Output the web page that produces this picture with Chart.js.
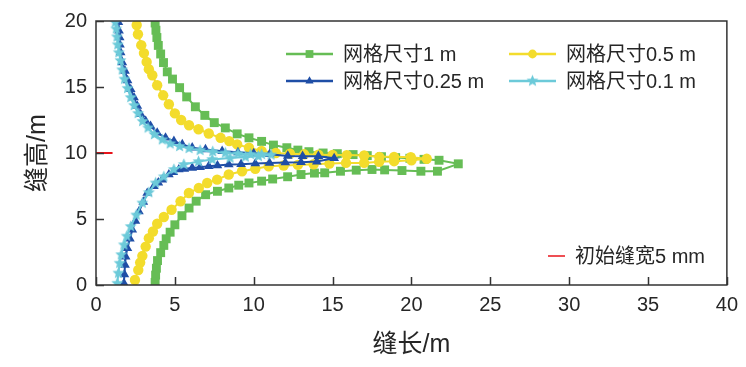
<!DOCTYPE html>
<html>
<head>
<meta charset="utf-8">
<script src="https://cdn.jsdelivr.net/npm/chart.js@4"></script>
<style>
  body { margin: 0; background: #fff; }
  #box { width: 746px; height: 367px; }
</style>
</head>
<body>
<div id="box"><canvas id="grafica" width="746" height="367"></canvas></div>
<script>
// 网格尺寸1 m
const x1m = [3.75,3.8,3.86,3.95,4.1,4.28,4.52,4.85,5.3,5.75,6.3,6.9,7.5,8.2,8.95,9.7,10.5,11.25,12.1,12.8,13.5,14.4,15.3,16.3,17.2,18.1,19.0,19.9,20.8,21.75,22.97,21.65,20.6,19.4,18.3,17.5,16.5,15.5,14.5,13.85,13.0,12.15,11.2,10.5,9.7,9.05,8.42,7.7,6.95,6.35,5.9,5.45,5.0,4.7,4.45,4.3,4.1,3.9,3.83,3.78,3.75];
const y1m = [19.85,19.3,18.75,18.15,17.5,16.85,16.15,15.6,14.95,14.25,13.5,12.85,12.3,11.9,11.45,11.15,10.88,10.6,10.4,10.22,10.1,10.0,9.95,9.88,9.8,9.72,9.65,9.6,9.52,9.45,9.18,8.62,8.62,8.67,8.72,8.75,8.7,8.62,8.5,8.48,8.37,8.2,8.03,7.87,7.73,7.56,7.35,7.1,6.84,6.35,5.83,5.25,4.56,4.0,3.5,3.0,2.45,1.85,1.27,0.75,0.2];
// 网格尺寸0.5 m
const x05 = [2.58,2.66,2.87,3.04,3.21,3.35,3.57,3.88,4.26,4.62,5.0,5.4,5.9,6.5,7.15,7.9,8.45,8.95,9.7,10.5,11.4,12.3,13.2,14.1,15.0,15.9,17.0,17.96,18.9,19.96,20.97,20.0,18.9,17.95,17.0,15.85,14.8,13.8,12.8,11.9,10.95,10.1,9.26,8.42,7.68,7.05,6.52,5.89,5.36,4.79,4.3,3.88,3.61,3.35,3.15,2.94,2.8,2.68,2.47];
const y05 = [19.7,19.0,18.17,17.57,16.9,16.35,15.89,15.13,14.37,13.69,13.0,12.5,12.1,11.8,11.48,11.15,10.9,10.65,10.4,10.15,10.0,9.95,9.9,9.87,9.85,9.84,9.81,9.71,9.71,9.68,9.56,9.45,9.38,9.33,9.25,9.25,9.2,9.15,9.1,9.05,9.0,8.8,8.62,8.37,7.98,7.73,7.35,6.97,6.34,5.7,5.15,4.64,4.05,3.55,2.91,2.21,1.7,1.14,0.38];
// 网格尺寸0.25 m
const x025 = [1.42,1.46,1.5,1.52,1.56,1.67,1.84,2.0,2.2,2.41,2.62,2.83,3.15,3.46,3.88,4.41,4.94,5.47,6.1,6.94,8.0,9.0,10.0,11.0,12.16,13.1,14.1,15.1,14.0,13.0,12.0,11.0,10.1,9.2,8.42,7.7,7.15,6.6,6.1,5.6,5.25,4.9,4.62,4.2,3.95,3.67,3.25,3.0,2.72,2.5,2.3,2.15,1.99,1.88,1.84,1.8,1.77];
const y025 = [19.9,19.26,18.76,18.2,17.62,16.86,16.22,15.5,14.83,14.2,13.56,12.93,12.42,12.04,11.53,11.15,10.9,10.65,10.4,10.27,10.14,10.05,9.98,9.9,9.78,9.76,9.76,9.6,9.35,9.3,9.28,9.25,9.2,9.15,9.13,9.05,9.0,8.93,8.87,8.8,8.75,8.55,8.37,7.98,7.75,7.48,6.97,6.3,5.57,4.85,4.18,3.5,2.79,2.15,1.52,0.8,0.13];
// 网格尺寸0.1 m
const x01 = [1.22,1.28,1.33,1.38,1.45,1.55,1.66,1.8,2.0,2.2,2.42,2.67,2.95,3.3,3.7,4.2,4.7,5.3,5.9,6.6,7.4,8.2,9.0,9.8,10.5,11.1,10.3,9.47,8.5,7.37,6.5,5.57,4.94,4.3,3.78,3.35,2.94,2.55,2.2,1.95,1.77,1.6,1.5,1.42,1.35];
const y01 = [19.9,19.4,18.8,18.2,17.6,17.0,16.3,15.6,14.9,14.2,13.6,13.0,12.4,11.9,11.4,11.0,10.7,10.5,10.35,10.2,10.1,10.0,9.95,9.9,9.9,9.85,9.75,9.7,9.62,9.51,9.35,9.13,8.75,8.2,7.73,7.0,6.21,5.3,4.43,3.7,3.04,2.3,1.65,0.9,0.13];
// 初始缝宽5 mm
const xIni = [0, 1.05];
const yIni = [10, 10];

const etiquetas = ['网格尺寸1 m', '网格尺寸0.5 m', '网格尺寸0.25 m', '网格尺寸0.1 m', '初始缝宽5 mm'];
const xTicks = [0, 5, 10, 15, 20, 25, 30, 35, 40];
const yTicks = [0, 5, 10, 15, 20];

const FONT = '"Liberation Sans", "Noto Sans CJK SC", Arial, sans-serif';
const TXT = '#262626';
const pares = (xs, ys) => xs.map((v, i) => ({x: v, y: ys[i]}));

// estrella rellena de 5 puntas (Chart.js solo trae el asterisco)
function hacerEstrella(color, r) {
  const c = document.createElement('canvas');
  const n = Math.ceil(r * 2) + 2;
  c.width = n; c.height = n;
  const g = c.getContext('2d');
  g.fillStyle = color;
  g.beginPath();
  for (let k = 0; k < 10; k++) {
    const rr = k % 2 === 0 ? r : r * 0.45;
    const ang = -Math.PI / 2 + k * Math.PI / 5;
    g.lineTo(n / 2 + rr * Math.cos(ang), n / 2 + rr * Math.sin(ang));
  }
  g.closePath();
  g.fill();
  return c;
}

const serie = (label, xs, ys, color, estilo, radio, orden) => ({
  label: label,
  data: pares(xs, ys),
  borderColor: color,
  backgroundColor: color,
  pointBackgroundColor: color,
  pointBorderColor: color,
  pointBorderWidth: 0,
  pointStyle: estilo,
  pointRadius: radio,
  borderWidth: 2,
  showLine: true,
  tension: 0,
  order: orden
});

const data = {
  datasets: [
    serie(etiquetas[0], x1m, y1m, '#66bd55', 'rect', 6.3, 5),
    serie(etiquetas[1], x05, y05, '#f3dc2c', 'circle', 5.2, 4),
    serie(etiquetas[2], x025, y025, '#1f4ea6', 'triangle', 5.6, 3),
    serie(etiquetas[3], x01, y01, '#6ccad9', hacerEstrella('#6ccad9', 6.3), 6.3, 2),
    serie(etiquetas[4], xIni, yIni, '#e8141b', 'circle', 0, 1)
  ]
};

// marco, marcas hacia dentro y leyendas
const marco = {
  id: 'marco',
  afterDraw(chart) {
    const {ctx, chartArea: a, scales: {x, y}} = chart;
    ctx.save();
    ctx.strokeStyle = '#333';
    ctx.lineWidth = 1.5;
    ctx.beginPath();
    ctx.rect(a.left, a.top, a.right - a.left, a.bottom - a.top);
    xTicks.forEach(v => {
      const px = Math.round(x.getPixelForValue(v)) + 0.5;
      ctx.moveTo(px, a.bottom); ctx.lineTo(px, a.bottom - 8);
    });
    yTicks.forEach(v => {
      const py = Math.round(y.getPixelForValue(v)) + 0.5;
      ctx.moveTo(a.left, py); ctx.lineTo(a.left + 8, py);
    });
    ctx.stroke();

    const items = [
      [0, 286, 54], [1, 509, 54],
      [2, 286, 81], [3, 509, 81]
    ];
    ctx.font = '20px ' + FONT;
    ctx.textBaseline = 'middle';
    items.forEach(([i, lx, ly]) => {
      const ds = chart.data.datasets[i];
      ctx.strokeStyle = ds.borderColor;
      ctx.fillStyle = ds.borderColor;
      ctx.lineWidth = 2.5;
      ctx.beginPath();
      ctx.moveTo(lx, ly); ctx.lineTo(lx + 47, ly);
      ctx.stroke();
      Chart.helpers.drawPoint(ctx, {pointStyle: ds.pointStyle, radius: ds.pointRadius - 0.8, rotation: 0, borderWidth: 0}, lx + 23.5, ly);
      ctx.fillStyle = TXT;
      ctx.fillText(ds.label, lx + 57, ly + 1);
    });
    const rojo = chart.data.datasets[4];
    ctx.strokeStyle = rojo.borderColor;
    ctx.lineWidth = 1.5;
    ctx.beginPath();
    ctx.moveTo(548, 256); ctx.lineTo(565, 256);
    ctx.stroke();
    ctx.fillStyle = TXT;
    ctx.fillText(rojo.label, 575, 257);
    ctx.restore();
  }
};

const config = {
  type: 'scatter',
  data: data,
  options: {
    responsive: false,
    animation: false,
    layout: { padding: { top: 21, right: 17, left: 0, bottom: 0 } },
    plugins: {
      legend: { display: false },
      tooltip: { enabled: false }
    },
    scales: {
      x: {
        type: 'linear',
        min: 0, max: 40,
        afterFit: s => { s.height = 82; },
        afterBuildTicks: s => { s.ticks = xTicks.map(v => ({value: v})); },
        grid: { display: true, drawOnChartArea: false, drawTicks: false },
        border: { display: false },
        ticks: { color: TXT, padding: 8, font: { family: FONT, size: 20 } },
        title: { display: true, text: '缝长/m', color: TXT, padding: { top: 0, bottom: 7 }, font: { family: FONT, size: 25 } }
      },
      y: {
        type: 'linear',
        min: 0, max: 20,
        afterFit: s => { s.width = 96; },
        afterBuildTicks: s => { s.ticks = yTicks.map(v => ({value: v})); },
        grid: { display: true, drawOnChartArea: false, drawTicks: false },
        border: { display: false },
        ticks: { color: TXT, padding: 9, font: { family: FONT, size: 20 } },
        title: { display: true, text: '缝高/m', color: TXT, padding: { top: 23, bottom: 0 }, font: { family: FONT, size: 25 } }
      }
    }
  },
  plugins: [marco]
};

const chart = new Chart(document.querySelector('#grafica'), config);
</script>
</body>
</html>
